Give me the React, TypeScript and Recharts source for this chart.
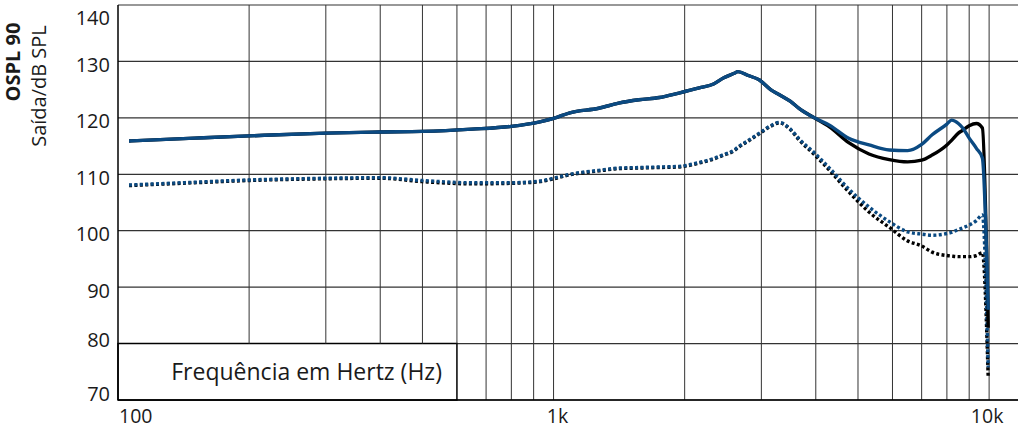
import {
  LineChart,
  Line,
  XAxis,
  YAxis,
  CartesianGrid,
  ReferenceLine,
  ReferenceArea,
} from "recharts";

// frequencies (Hz) shared by the four curves
const FREQ = [
  106, 150, 200, 300, 400, 500, 650, 800, 930, 1000, 1090, 1270, 1410, 1570,
  1750, 1940, 2160, 2330, 2460, 2600, 2650, 2800, 2970, 3150, 3300, 3500, 3660,
  3970, 4300, 4760, 5300, 5900, 6500, 7000, 7400, 8000, 8200, 8500, 8700, 9000,
  9350, 9650, 9950,
];

const BLACK_SOLID = [
  115.9, 116.4, 116.8, 117.3, 117.5, 117.6, 118.0, 118.5, 119.3, 119.9, 120.9,
  121.7, 122.6, 123.2, 123.6, 124.4, 125.3, 126.0, 127.1, 127.9, 128.2, 127.5,
  126.7, 125.0, 124.1, 122.9, 121.7, 120.0, 118.4, 115.6, 113.6, 112.6, 112.2,
  112.5, 113.4, 115.2, 116.0, 117.3, 117.8, 118.6, 119.0, 118.2, 82.8,
];

const BLUE_SOLID = [
  115.9, 116.4, 116.8, 117.3, 117.5, 117.6, 118.0, 118.5, 119.3, 119.9, 120.9,
  121.7, 122.6, 123.2, 123.6, 124.4, 125.3, 126.0, 127.1, 127.9, 128.2, 127.5,
  126.7, 125.0, 124.1, 122.9, 121.7, 120.0, 118.7, 116.4, 115.2, 114.3, 114.2,
  115.3, 117.0, 118.9, 119.6, 119.0, 118.2, 116.4, 114.6, 112.9, 86.0,
];

const BLACK_DOTTED = [
  108.0, 108.5, 108.9, 109.2, 109.3, 108.7, 108.3, 108.4, 108.7, 109.2, 109.9,
  110.6, 111.0, 111.1, 111.2, 111.3, 112.0, 112.7, 113.4, 114.2, 114.7, 115.9,
  117.2, 118.5, 119.1, 117.9, 116.1, 113.5, 110.7, 106.9, 103.3, 100.6, 98.2,
  97.3, 96.2, 95.6, 95.5, 95.4, 95.4, 95.4, 95.6, 96.1, 74.1,
];

const BLUE_DOTTED = [
  108.1, 108.6, 109.0, 109.3, 109.4, 108.9, 108.5, 108.5, 108.8, 109.3, 110.0,
  110.7, 111.1, 111.2, 111.3, 111.4, 112.1, 112.8, 113.5, 114.3, 114.8, 116.0,
  117.3, 118.6, 119.2, 118.0, 116.3, 113.8, 111.1, 107.4, 104.2, 101.6, 99.8,
  99.4, 99.2, 99.5, 99.7, 100.2, 100.5, 101.0, 101.8, 102.8, 75.8,
];

const Y_TICKS = [70, 80, 90, 100, 110, 120, 130, 140];
const X_TICKS = [100, 1000, 10000];
const X_TICK_LABELS = ["100", "1k", "10k"];
const GRID_FREQ = [
  200, 300, 400, 500, 600, 700, 800, 900, 1000, 2000, 3000, 4000, 5000, 6000,
  7000, 8000, 9000, 10000,
];

const FONT = "'Open Sans', 'Noto Sans', sans-serif";
const BLUE = "#0b4a82";
const GRID = "#333";

const toPoints = (vals: number[]) => FREQ.map((f, i) => ({ f, v: vals[i] }));

const XTick = (props: any) => {
  const { x, y, payload } = props;
  const idx = X_TICKS.indexOf(payload.value);
  const first = idx === 0;
  const shift = [1, 4, -2][idx];
  return (
    <text
      x={x + shift}
      y={y + 23}
      textAnchor={first ? "start" : "middle"}
      fontSize={19.5}
      fontFamily={FONT}
      fill="#1a1a1a"
    >
      {X_TICK_LABELS[idx]}
    </text>
  );
};

const YTick = (props: any) => {
  const { x, y, payload } = props;
  let dy = 3;
  if (payload.value === 140) dy = 8;
  if (payload.value === 80) dy = -4;
  if (payload.value === 70) dy = -7;
  return (
    <text
      x={x - 8}
      y={y + dy}
      textAnchor="end"
      dominantBaseline="central"
      fontSize={20}
      fontFamily={FONT}
      fill="#1a1a1a"
    >
      {payload.value}
    </text>
  );
};

const YTitle = () => (
  <g fontFamily={FONT} fill="#1a1a1a">
    <text
      transform="translate(12, 62) rotate(-90)"
      textAnchor="middle"
      dominantBaseline="central"
      fontSize={20}
      fontWeight="bold"
    >
      OSPL 90
    </text>
    <text
      transform="translate(38, 86) rotate(-90)"
      textAnchor="middle"
      dominantBaseline="central"
      fontSize={20}
    >
      Saída/dB SPL
    </text>
  </g>
);

const lineProps = {
  dataKey: "v",
  type: "monotone" as const,
  strokeWidth: 3.4,
  dot: false,
  activeDot: false,
  isAnimationActive: false,
};

export default function App() {
  return (
    <div style={{ position: "absolute", left: 0, top: 0 }}>
      <LineChart
        width={1024}
        height={429}
        margin={{ top: 5, right: 6, bottom: 0, left: 0 }}
      >
        <CartesianGrid vertical={false} stroke={GRID} strokeWidth={1.2} />
        <XAxis
          dataKey="f"
          type="number"
          scale="log"
          domain={[100, 11650]}
          allowDataOverflow
          ticks={X_TICKS}
          height={29}
          tickLine={false}
          tickSize={0}
          tickMargin={0}
          axisLine={{ stroke: "#000", strokeWidth: 1.5 }}
          tick={<XTick />}
        />
        <YAxis
          type="number"
          domain={[70, 140]}
          ticks={Y_TICKS}
          width={118}
          tickLine={false}
          tickSize={0}
          tickMargin={0}
          axisLine={{ stroke: "#000", strokeWidth: 1.5 }}
          tick={<YTick />}
          label={<YTitle />}
        />
        {GRID_FREQ.map((f) => (
          <ReferenceLine
            key={f}
            segment={[
              { x: f, y: f <= 600 ? 80 : 70 },
              { x: f, y: 140 },
            ]}
            stroke={GRID}
            strokeWidth={1}
          />
        ))}
        <ReferenceArea
          x1={100}
          x2={600}
          y1={70}
          y2={80}
          fill="#fff"
          fillOpacity={1}
          stroke="#000"
          strokeWidth={1.5}
          label={{
            value: "Frequência em Hertz (Hz)",
            position: "insideRight",
            offset: 15,
            fontSize: 23,
            fontFamily: FONT,
            fill: "#1a1a1a",
          }}
        />
        <Line
          {...lineProps}
          data={toPoints(BLACK_DOTTED)}
          stroke="#000"
          strokeDasharray="3 2.4"
        />
        <Line
          {...lineProps}
          data={toPoints(BLUE_DOTTED)}
          stroke={BLUE}
          strokeDasharray="3 2.4"
        />
        <Line {...lineProps} data={toPoints(BLACK_SOLID)} stroke="#000" />
        <Line {...lineProps} data={toPoints(BLUE_SOLID)} stroke={BLUE} />
      </LineChart>
    </div>
  );
}
